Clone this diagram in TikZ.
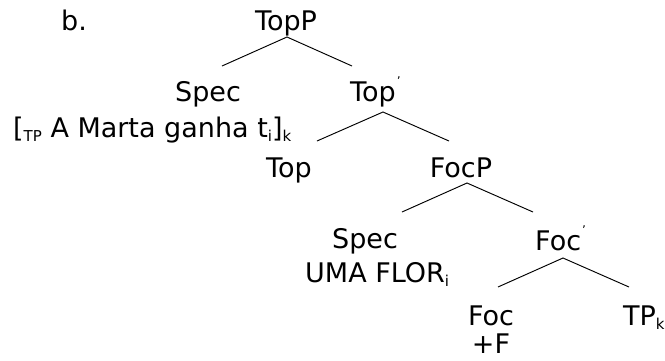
\documentclass[tikz,border=0pt]{standalone}
\usepackage{fontspec}
\setmainfont{DejaVu Sans}
\newcommand\subtx[1]{\raisebox{-0.28ex}{\fontsize{15}{15}\selectfont #1}}
\newcommand\primetx{\hspace{0.04em}\raisebox{0.58em}{\fontsize{12}{12}\selectfont\symbol{"27}}}
\begin{document}
\begin{tikzpicture}[x=1pt,y=-1pt,
  lbl/.style={inner sep=0pt, font=\fontsize{27}{30}\selectfont},
  branch/.style={line width=0.95pt}]
\useasboundingbox (0,0) rectangle (665,360);
% labels
\node[lbl, anchor=base west] (b) at (61,30) {b.};
\node[lbl, anchor=base] (topp) at (286,30) {TopP};
\node[lbl, anchor=base] (spec1) at (208,101) {Spec};
\node[lbl, anchor=base west] (tp1) at (13,137) {[\subtx{TP} A Marta ganha t\subtx{i}]\subtx{k}};
\node[lbl, anchor=base west] (topbar) at (350,101) {Top\primetx};
\node[lbl, anchor=base] (top) at (289,177) {Top};
\node[lbl, anchor=base] (focp) at (461,177) {FocP};
\node[lbl, anchor=base] (spec2) at (365,248) {Spec};
\node[lbl, anchor=base west] (flor) at (305,282) {UMA FLOR\subtx{i}};
\node[lbl, anchor=base west] (focbar) at (535,250) {Foc\primetx};
\node[lbl, anchor=base] (foc) at (491,325) {Foc};
\node[lbl, anchor=base] (plusf) at (491,353) {+F};
\node[lbl, anchor=base west] (tpk) at (623,325) {TP\subtx{k}};
% branch points
\coordinate (a1) at (287,37);  \coordinate (l1) at (222,66);  \coordinate (r1) at (352,66);
\coordinate (a2) at (383,112); \coordinate (l2) at (317,141); \coordinate (r2) at (449,141);
\coordinate (a3) at (467,183); \coordinate (l3) at (402,212); \coordinate (r3) at (533,212);
\coordinate (a4) at (563,258); \coordinate (l4) at (498,287); \coordinate (r4) at (629,287);
\draw[branch] (l1) -- (a1) -- (r1);
\draw[branch] (l2) -- (a2) -- (r2);
\draw[branch] (l3) -- (a3) -- (r3);
\draw[branch] (l4) -- (a4) -- (r4);
\end{tikzpicture}
\end{document}
